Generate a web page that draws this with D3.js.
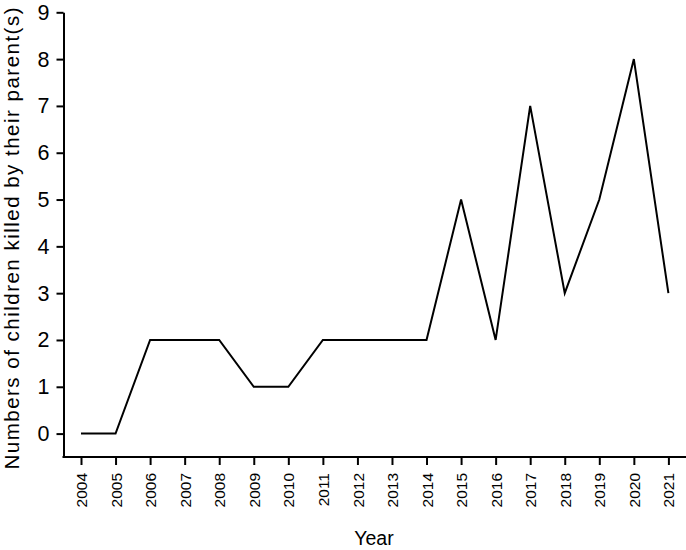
<!DOCTYPE html>
<html><head><meta charset="utf-8">
<script src="https://cdn.jsdelivr.net/npm/d3@7"></script>
<style>body{margin:0;background:#fff;} text{font-family:"Liberation Sans",Arial,Helvetica,sans-serif;fill:#000;}</style>
</head><body>
<svg id="c" width="686" height="550"></svg>
<script>
const years = [2004,2005,2006,2007,2008,2009,2010,2011,2012,2013,2014,2015,2016,2017,2018,2019,2020,2021];
const counts = [0,0,2,2,2,1,1,2,2,2,2,5,2,7,3,5,8,3];
const yTicks = [0,1,2,3,4,5,6,7,8,9];
const yTitle = "Numbers of children killed by their parent(s)";
const xTitle = "Year";

const svg = d3.select("#c");
const x = d3.scaleLinear().domain([2004,2021]).range([81,668.4]);
const y = d3.scaleLinear().domain([-0.5,9]).range([457,12.3]);

// y axis
const ya = svg.append("g").attr("transform","translate(63.5,0)")
  .call(d3.axisLeft(y).tickValues(yTicks).tickSize(7).tickSizeOuter(0).tickPadding(7).tickFormat(d3.format("d")));
ya.select(".domain").attr("stroke","#000").attr("stroke-width",2);
ya.selectAll(".tick line").attr("stroke","#000").attr("stroke-width",2);
ya.selectAll(".tick text").attr("font-size",21.5).attr("font-family","Liberation Sans, Arial, sans-serif");

// x axis
const xa = svg.append("g").attr("transform","translate(0,457)")
  .call(d3.axisBottom(x).tickValues(years).tickSize(8).tickSizeOuter(0).tickFormat(d3.format("d")));
xa.select(".domain").remove();
xa.append("line").attr("x1",62.5).attr("x2",686).attr("y1",0).attr("y2",0).attr("stroke","#000").attr("stroke-width",2);
xa.selectAll(".tick line").attr("stroke","#000").attr("stroke-width",2);
xa.selectAll(".tick text").attr("font-size",15.5).attr("font-family","Liberation Sans, Arial, sans-serif")
  .attr("transform","rotate(-90)").attr("text-anchor","end").attr("dy","0.36em").attr("x",-16).attr("y",0);

// line
svg.append("path").datum(years.map((d,i)=>[d,counts[i]]))
  .attr("fill","none").attr("stroke","#000").attr("stroke-width",2).attr("stroke-linejoin","miter")
  .attr("d", d3.line().x(d=>x(d[0])).y(d=>y(d[1])));

// titles
svg.append("text").attr("transform","translate(18.5,238.5) rotate(-90)").attr("text-anchor","middle")
  .attr("font-size",20.5).attr("textLength",462).attr("lengthAdjust","spacing").text(yTitle);
svg.append("text").attr("x",374).attr("y",545).attr("text-anchor","middle").attr("font-size",19.5).text(xTitle);
</script>
</body></html>
